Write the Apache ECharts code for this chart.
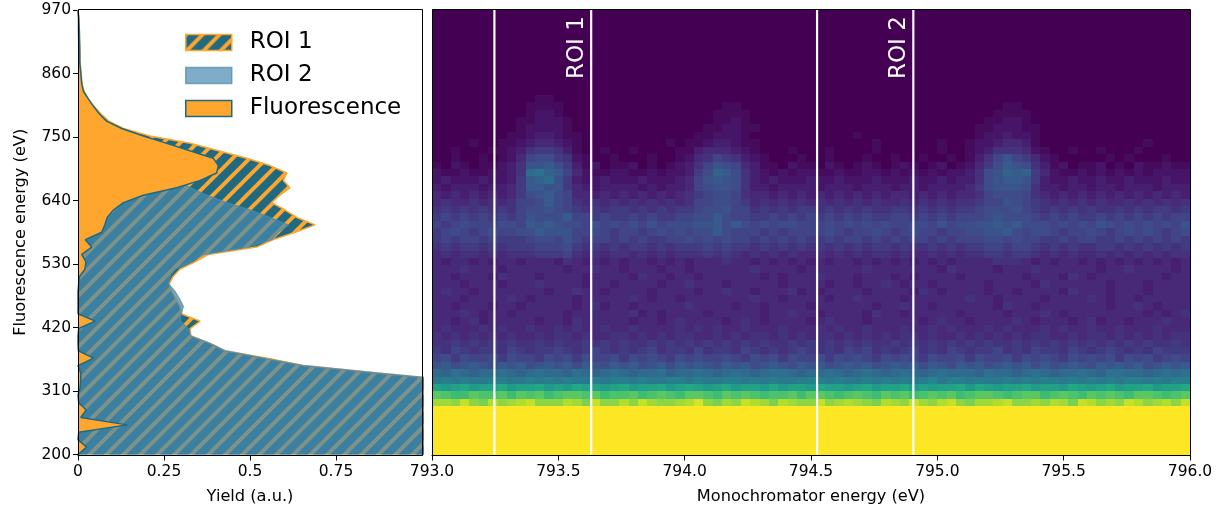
<!DOCTYPE html>
<html><head><meta charset="utf-8">
<style>html,body{margin:0;padding:0;background:#fff}#c{width:1222px;height:512px}</style>
<script src="https://cdn.jsdelivr.net/npm/echarts@6/dist/echarts.min.js"></script>
</head><body><div id="c"></div>
<script>
// Sampling: one value per fluorescence bin, lowest energy first
const energyMin = 200, energyMax = 970, energyBins = 61;
const monoMin = 793, monoMax = 796, monoBins = 81;
const roiEdges = [793.247, 793.63, 794.524, 794.905];
const roiLabels = [{name:'ROI 1', x:793.575, y:904},{name:'ROI 2', x:794.85, y:904}];

const fluorescence = [0,.025,0,.002,.143,.008,.024,.002,0,.006,.008,.008,0,.045,.001,0,0,.002,.05,0,0,0,0,.002,.004,.02,.023,.011,.04,.021,.069,.078,.085,.103,.132,.19,.287,.355,.403,.408,.393,.325,.258,.19,.127,.083,.062,.045,.03,.016,.011,.009,.007,.005,.005,.005,.004,.004,.003,.002,0];
const roi1 = [4.0,3.8,3.6,3.4,3.2,3.0,2.7,2.3,1.9,1.5,1.1,.87,.654,.55,.427,.384,.328,.326,.355,.30,.297,.285,.273,.265,.276,.296,.34,.378,.519,.568,.631,.689,.636,.602,.563,.587,.616,.597,.607,.558,.49,.408,.326,.209,.132,.09,.066,.046,.03,.018,.012,.01,.008,.006,.006,.005,.005,.004,.003,.002,0];
const roi2 = [4.0,3.8,3.6,3.4,3.2,3.0,2.7,2.3,1.9,1.5,1.1,.87,.654,.54,.427,.384,.328,.32,.297,.30,.306,.295,.282,.263,.267,.28,.33,.365,.495,.563,.582,.611,.558,.5,.432,.374,.326,.29,.24,.19,.14,.1,.075,.055,.04,.03,.02,.015,.01,.008,.006,.005,.004,.003,.003,.002,.002,.001,.001,.001,0];

// Heat map levels, 0-9 then a-z (0..35), top row (970 eV) first
const heatRows = [
"0000000000 0000000000 0000000000 0000000000 0000000000 0000000000 0000000000 0000000000 0",
"0000000000 0000000000 0000000000 0000000000 0000000000 0000000000 0000000000 0000000000 0",
"0000000000 0000000000 0000000000 0000000000 0000000000 0000000000 0000000000 0000000000 0",
"0000000000 0000000000 0000000000 0000000000 0000000000 0000000000 0000000000 0000000000 0",
"0000000000 0000000000 0000000000 0000000000 0000000000 0000000000 0000000000 0000000000 0",
"0000000000 0000000000 0000000000 0000000000 0000000000 0000000000 0000000000 0000000000 0",
"0000000000 0000000000 0000000000 0000000000 0000000000 0000000000 0000000000 0000000000 0",
"0000000000 0000000000 0000000000 0000000000 0000000000 0000000000 0000000000 0000000000 0",
"0000000000 0000000000 0000000000 0000000000 0000000000 0000000000 0000000000 0000000000 0",
"0000000000 0000000000 0000000000 0000000000 0000000000 0000000000 0000000000 0000000000 0",
"0000000000 0000000000 0000000000 0000000000 0000000000 0000000000 0000000000 0000000000 0",
"0000000000 0000000000 0000000000 0000000000 0000000000 0000000000 0000000000 0000000000 0",
"0000000000 0110000000 0000000000 0000000000 0000000000 0000000000 0000000000 0000000000 0",
"0000000000 1111000000 0000000000 0110000000 0000000000 0000000000 0110000000 0000000000 0",
"0000000000 1221000000 0000000000 1111000000 0000000000 0000000000 1111000000 0000000000 0",
"0000000001 1222100000 0000000000 1121000000 0000000000 0000000001 1221000000 0000000000 0",
"0000000001 2222100000 0000000001 1221100000 0000000000 0000000011 2221100000 0000000000 0",
"0000000011 2332110000 0000000011 2221000000 0000010000 0000000012 2322100000 0000000000 0",
"0000100112 3443210000 0000010112 3321100000 0000000100 0000100122 3443100000 0000001000 0",
"0010001123 5665310010 0100001134 4432100010 0010000100 0000100123 5554210010 0100010000 0",
"0010010124 7886521001 0001001245 7653210001 0010001001 0010010135 7976421000 0010100010 0",
"1021011235 99a8631201 1201012357 9874311021 1021012101 2101201246 8a98531201 1201021121 1",
"2112112235 cdba742112 2112122368 ba85321212 2112112212 1212122358 9bab642112 1212121222 2",
"2322232236 abc9632232 2232223479 a985323222 3223222322 2322323358 9aa9632232 2322322232 2",
"3233323346 aa99643233 3323233478 9985332333 3233323332 3323333468 9998533233 2332333233 3",
"4343434346 89a8744343 4343434567 8875443434 3434343434 4343434457 8887543434 3434343434 3",
"4544545457 78a8754545 4545454577 8876454545 4545454544 5454545567 7987654545 4544545454 5",
"5656565657 8898765656 6565656678 8977565656 6565656556 6565656678 8897656565 6556565665 6",
"6767676767 9888a77676 6767667788 a877667676 7676767667 7676767778 9888767676 6767676767 7",
"7678777887 a9a9887978 7879788899 a8a8787887 7787878787 7887978899 a9a8887878 7987878787 9",
"6787678778 8a99977876 7767878788 a877767677 7787677876 7877677889 9a87887677 8767878767 8",
"6767767666 7887976776 7676677878 7877676767 6676776767 6776767778 8787766767 7667676767 6",
"5656656566 6777865656 5665656667 6766565656 5656565665 6556565667 7677656565 5665656565 6",
"4545545455 5666754545 5454545556 5654545454 4545454554 5445454556 6566545454 4545454545 5",
"4344343443 4443543434 3443434344 4544343434 3434434343 4343434444 5554343443 4343434343 4",
"4445444344 4444344544 3444344344 4444544443 4444445444 4444354444 3444544444 4344544443 4",
"4434443544 4344443444 4354434434 4444434344 4544434443 4344443444 4443444354 3444444434 4",
"4443444344 4544443443 4444344544 4344444344 4434434454 3443444443 4444354444 4434443444 4",
"4544344444 4434454434 4443444434 4544344453 4344443444 4354344443 4434444354 4434443444 4",
"4443444454 3444434444 4543443444 4444544344 4434454444 3444444544 3444434444 5434434444 4",
"4434443443 4444434534 4344444544 4434434444 3444444344 5443444444 3544344444 4434454344 4",
"4445434434 4444344444 4534344443 4444434454 4344443544 3444443444 4344454344 4444443434 5",
"4434534444 4344354444 4344345444 4345434444 3454443444 4434544344 4454344434 5344344454 4",
"4544454544 5445454454 4544445454 5445444544 4545445444 5445454445 4544454544 5445444544 4",
"5454545454 4545545445 5454545544 5454554545 4554545454 5545445454 5454554454 5545454545 5",
"5565656565 5656556565 6556565656 5656565565 6565656556 5656565656 5565656565 6565656556 5",
"6576566576 5667656765 6567566575 6657656567 6565767565 6756576566 7565766576 5676565766 6",
"7868778687 7687868778 6878768787 7876878687 7868787687 8768778687 7868787687 8786878678 7",
"9a89a98a9a 89a9a8a98a 9a89a8a9a9 8a9a89a98a 9a89a9a89a 9a8a98a9a8 9a9a8a89a9 8a9a9a89a9 a",
"cbdcbccdcb cdccbdcbcd cbccdbccdc bcdcbcddcb ccdcbcdcbc dcbcdcccbd ccbcdcbccd cbddccbcdc d",
"efefeeffee fefefeefef fefeeffefe effefefeef ffefeefefe fefgeffefe efefeffefe fefeffefef f",
"kjkljkkljk kljkjlkkjk ljkkljklkj kljkkjljkk jlkkjkljkk ljkjkkljlk jkkljkkjlk jkljkkljkk l",
"qpooqppqoq pqopqqpqop pqopqpoqqp oqpqpoppqo qqpopqpoqp qopqpqopqq popqqopqpo qpqpoqqpop q",
"uutwtsvtuv wtttvuswtt vtwuttuvxt sutwvusvut twtuvutsvu twutvwtsuu vwttutvusw vtutwvtuvt w",
"zzzzzzzzzz zzzzzzzzzz zzzzzzzzzz zzzzzzzzzz zzzzzzzzzz zzzzzzzzzz zzzzzzzzzz zzzzzzzzzz z",
"zzzzzzzzzz zzzzzzzzzz zzzzzzzzzz zzzzzzzzzz zzzzzzzzzz zzzzzzzzzz zzzzzzzzzz zzzzzzzzzz z",
"zzzzzzzzzz zzzzzzzzzz zzzzzzzzzz zzzzzzzzzz zzzzzzzzzz zzzzzzzzzz zzzzzzzzzz zzzzzzzzzz z",
"zzzzzzzzzz zzzzzzzzzz zzzzzzzzzz zzzzzzzzzz zzzzzzzzzz zzzzzzzzzz zzzzzzzzzz zzzzzzzzzz z",
"zzzzzzzzzz zzzzzzzzzz zzzzzzzzzz zzzzzzzzzz zzzzzzzzzz zzzzzzzzzz zzzzzzzzzz zzzzzzzzzz z",
"zzzzzzzzzz zzzzzzzzzz zzzzzzzzzz zzzzzzzzzz zzzzzzzzzz zzzzzzzzzz zzzzzzzzzz zzzzzzzzzz z",
"zzzzzzzzzz zzzzzzzzzz zzzzzzzzzz zzzzzzzzzz zzzzzzzzzz zzzzzzzzzz zzzzzzzzzz zzzzzzzzzz z"
];
const viridis = ['#440154','#482475','#414487','#355f8d','#2a788e','#21918c','#22a884','#44bf70','#7ad151','#bddf26','#fde725'];

const FONT = '"DejaVu Sans"';
const ORANGE = '#ffa62f', TEAL = '#1f6a80', ROI2C = 'rgba(72,138,175,0.7)';
const energyStep = (energyMax - energyMin) / (energyBins - 1);
const monoStep = (monoMax - monoMin) / monoBins;
const energyCats = Array.from({length: energyBins}, (_, k) => (energyMin + k * energyStep).toFixed(1));

function hatch() {
  const P = 17, c = document.createElement('canvas');
  c.width = c.height = P;
  const g = c.getContext('2d');
  g.fillStyle = TEAL; g.fillRect(0, 0, P, P);
  g.strokeStyle = ORANGE; g.lineWidth = 4; g.lineCap = 'square';
  [[-P, P, P, -P],[0, 2*P, 2*P, 0],[-P, 2*P, 2*P, -P]].forEach(a => {
    g.beginPath(); g.moveTo(a[0], a[1]); g.lineTo(a[2], a[3]); g.stroke();
  });
  return {image: c, repeat: 'repeat'};
}
const hatchFill = hatch();

// one [monoEnergy, fluorescenceEnergy, level] per heat cell
const cells = [];
heatRows.forEach((row, r) => {
  const s = row.replace(/ /g, '');
  for (let i = 0; i < monoBins; i++) {
    cells.push([monoMin + i * monoStep, energyMax - r * energyStep, parseInt(s[i], 36)]);
  }
});

function renderCell(params, api) {
  const x = api.value(0), y = api.value(1);
  const a = api.coord([x, y + energyStep / 2]);
  const b = api.coord([x + monoStep, y - energyStep / 2]);
  const x0 = Math.round(a[0]), y0 = Math.round(a[1]);
  const rect = echarts.graphic.clipRectByRect(
    {x: x0, y: y0, width: Math.round(b[0]) - x0, height: Math.round(b[1]) - y0},
    {x: params.coordSys.x, y: params.coordSys.y, width: params.coordSys.width, height: params.coordSys.height + 1});
  return rect && {type: 'rect', shape: rect, style: {fill: api.visual('color'), stroke: null}};
}

const tick = {show: true, length: 5, lineStyle: {color: '#000', width: 1}};
const axLine = {show: true, lineStyle: {color: '#000', width: 1}};
const lab = {color: '#000', fontFamily: FONT, fontSize: 15.5};
const nameStyle = {color: '#000', fontFamily: FONT, fontSize: 16.2};

const chart = echarts.init(document.getElementById('c'), null, {renderer: 'canvas'});
chart.setOption({
  animation: false,
  backgroundColor: '#fff',
  grid: [
    {left: 78, top: 9.5, width: 344, height: 445},
    {left: 432, top: 9.5, width: 758, height: 445}
  ],
  xAxis: [
    {gridIndex: 0, type: 'value', min: 0, max: 1, interval: .25, offset: 1,
     axisLine: axLine, axisTick: tick, splitLine: {show: false},
     axisLabel: {...lab, margin: 8, showMaxLabel: false, formatter: v => v === 1 ? '' : String(v)},
     name: 'Yield (a.u.)', nameLocation: 'middle', nameGap: 33, nameTextStyle: nameStyle},
    {gridIndex: 1, type: 'value', min: monoMin, max: monoMax, interval: .5, offset: 1,
     axisLine: axLine, axisTick: tick, splitLine: {show: false},
     axisLabel: {...lab, margin: 8, formatter: v => v.toFixed(1)},
     name: 'Monochromator energy (eV)', nameLocation: 'middle', nameGap: 33, nameTextStyle: nameStyle}
  ],
  yAxis: [
    {gridIndex: 0, type: 'value', min: energyMin, max: energyMax, interval: 110,
     axisLine: axLine, axisTick: tick, splitLine: {show: false},
     axisLabel: {...lab, margin: 7, verticalAlign: 'middle', lineHeight: 15, padding: [5, 0, 0, 0], formatter: v => String(v)},
     name: 'Fluorescence energy (eV)', nameLocation: 'middle', nameGap: 49, nameTextStyle: nameStyle},
    {gridIndex: 0, type: 'category', data: energyCats, boundaryGap: false, show: false},
    {gridIndex: 1, type: 'value', min: energyMin, max: energyMax, show: false}
  ],
  visualMap: {show: false, type: 'continuous', min: 0, max: 35, seriesIndex: 0, dimension: 2,
              inRange: {color: viridis}},
  legend: {
    left: 180, top: 26, orient: 'vertical', itemWidth: 46, itemHeight: 16, itemGap: 10,
    selectedMode: false, textStyle: {color: '#000', fontFamily: FONT, fontSize: 23, padding: [0, 0, 0, 13], lineHeight: 23},
    data: [
      {name: 'ROI 1', icon: 'rect', itemStyle: {color: hatchFill, borderColor: ORANGE, borderWidth: 1.5}},
      {name: 'ROI 2', icon: 'rect', itemStyle: {color: ROI2C, borderColor: ROI2C, borderWidth: 1.5}},
      {name: 'Fluorescence', icon: 'rect', itemStyle: {color: ORANGE, borderColor: TEAL, borderWidth: 1.5}}
    ]
  },
  graphic: [
    {type: 'rect', z: 100, silent: true, shape: {x: 78.5, y: 9.5, width: 344, height: 446}, style: {fill: 'none', stroke: '#000', lineWidth: 1}},
    {type: 'rect', z: 100, silent: true, shape: {x: 432.5, y: 9.5, width: 758, height: 446}, style: {fill: 'none', stroke: '#000', lineWidth: 1}}
  ],
  series: [
    {type: 'custom', name: 'Map', xAxisIndex: 1, yAxisIndex: 2, coordinateSystem: 'cartesian2d',
     data: cells, renderItem: renderCell, encode: {x: 0, y: 1}, z: 1, silent: true},
    {type: 'line', name: 'ROI 1', xAxisIndex: 0, yAxisIndex: 1, data: roi1.map((v, k) => [v, energyCats[k]]),
     showSymbol: false, z: 2, lineStyle: {color: ORANGE, width: 1.5}, itemStyle: {color: ORANGE},
     areaStyle: {color: hatchFill, opacity: 1}},
    {type: 'line', name: 'ROI 2', xAxisIndex: 0, yAxisIndex: 1, data: roi2.map((v, k) => [v, energyCats[k]]),
     showSymbol: false, z: 3, lineStyle: {color: ROI2C, width: 1.5}, itemStyle: {color: ROI2C},
     areaStyle: {color: ROI2C, opacity: 1}},
    {type: 'line', name: 'Fluorescence', xAxisIndex: 0, yAxisIndex: 1, data: fluorescence.map((v, k) => [v, energyCats[k]]),
     showSymbol: false, z: 4, lineStyle: {color: TEAL, width: 1.5}, itemStyle: {color: TEAL},
     areaStyle: {color: ORANGE, opacity: 1}},
    ...roiEdges.map((x, i) => ({type: 'line', name: 'edge' + i, xAxisIndex: 1, yAxisIndex: 2,
      data: [[x, energyMin], [x, energyMax]], showSymbol: false, z: 5, silent: true,
      lineStyle: {color: '#fff', width: 2.2}})),
    {type: 'scatter', name: 'roi labels', xAxisIndex: 1, yAxisIndex: 2, symbolSize: 0, z: 6, silent: true,
     itemStyle: {opacity: 1},
     data: roiLabels.map(d => ({name: d.name, value: [d.x, d.y]})),
     label: {show: true, position: 'inside', rotate: 90, formatter: '{b}', color: '#fff', fontFamily: FONT, fontSize: 23, opacity: 1}}
  ]
});
</script></body></html>
